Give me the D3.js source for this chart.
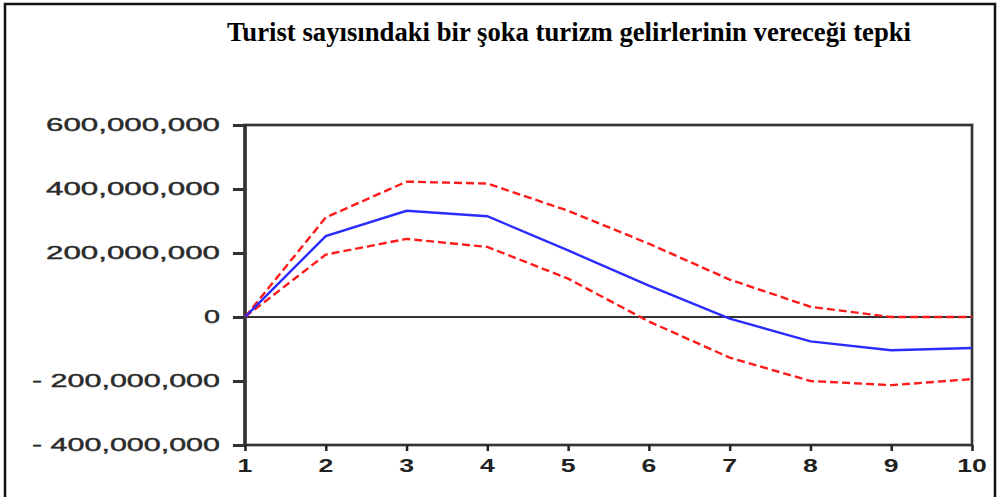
<!DOCTYPE html>
<html>
<head>
<meta charset="utf-8">
<script src="https://cdn.jsdelivr.net/npm/d3@7"></script>
<style>
  html, body { margin: 0; padding: 0; background: #fff; }
  svg { display: block; }
</style>
</head>
<body>
<script>
// ---- Data ----
const periods = [1, 2, 3, 4, 5, 6, 7, 8, 9, 10];
const response = [0, 253e6, 332e6, 315e6, 208e6, 98e6, -5e6, -76e6, -104e6, -97e6];
const upperBand = [0, 311e6, 423e6, 417e6, 332e6, 229e6, 117e6, 32e6, 0, 0];
const lowerBand = [0, 195e6, 244e6, 219e6, 120e6, -14e6, -127e6, -200e6, -213e6, -194e6];
const yTicks = [600e6, 400e6, 200e6, 0, -200e6, -400e6];
const xTicks = [1, 2, 3, 4, 5, 6, 7, 8, 9, 10];
const title = "Turist sayısındaki bir şoka turizm gelirlerinin vereceği tepki";

const W = 997, H = 497;
const svg = d3.select("body").append("svg").attr("width", W).attr("height", H);

// outer frame
svg.append("path")
  .attr("d", `M5,${H} L5,4 L995,4 L995,${H}`)
  .attr("fill", "none").attr("stroke", "#111").attr("stroke-width", 2.5);

// title
svg.append("text")
  .attr("x", 227).attr("y", 41)
  .attr("font-family", "'Liberation Serif', 'Times New Roman', serif")
  .attr("font-weight", "bold")
  .attr("font-size", 27)
  .attr("textLength", 684)
  .attr("lengthAdjust", "spacingAndGlyphs")
  .attr("fill", "#000")
  .text(title);

const pL = 245, pR = 972, pT = 125, pB = 445;
const x = d3.scaleLinear().domain([1, 10]).range([pL, pR]);
const y = d3.scaleLinear().domain([-400e6, 600e6]).range([pB, pT]);

// plot frame (top & right) with light shadow
svg.append("rect")
  .attr("x", pL).attr("y", pT)
  .attr("width", pR - pL).attr("height", pB - pT)
  .attr("fill", "none").attr("stroke", "#c8c8c8").attr("stroke-width", 4);
svg.append("rect")
  .attr("x", pL).attr("y", pT)
  .attr("width", pR - pL).attr("height", pB - pT)
  .attr("fill", "none").attr("stroke", "#333").attr("stroke-width", 2.2);
svg.append("line")
  .attr("x1", pL).attr("x2", pL).attr("y1", pT).attr("y2", pB)
  .attr("stroke", "#333").attr("stroke-width", 3.5);

// y axis
const yAxis = d3.axisLeft(y).tickValues(yTicks).tickSize(12).tickFormat("");
const gy = svg.append("g").attr("transform", `translate(${pL},0)`).call(yAxis);
gy.select(".domain").remove();
gy.selectAll(".tick line").attr("stroke", "#333").attr("stroke-width", 3);

const fmt = d3.format(",");
svg.append("g").selectAll("text").data(yTicks).join("text")
  .attr("x", 220)
  .attr("y", d => y(d) + 6)
  .attr("text-anchor", "end")
  .attr("font-family", "'Liberation Sans', Arial, sans-serif")
  .attr("font-size", 18)
  .attr("fill", "#2a2a2a")
  .attr("stroke", "#2a2a2a").attr("stroke-width", 0.4)
  .attr("textLength", d => d < 0 ? 188 : (d === 0 ? 16 : 174))
  .attr("lengthAdjust", "spacingAndGlyphs")
  .text(d => d < 0 ? "- " + fmt(-d) : fmt(d));

// x axis
const xAxis = d3.axisBottom(x).tickValues(xTicks).tickSize(6).tickFormat("");
const gx = svg.append("g").attr("transform", `translate(0,${pB})`).call(xAxis);
gx.select(".domain").remove();
gx.selectAll(".tick line").attr("stroke", "#222").attr("stroke-width", 2.5);

svg.append("g").selectAll("text").data(xTicks).join("text")
  .attr("transform", d => `translate(${x(d)},472) scale(1.4,1)`)
  .attr("text-anchor", "middle")
  .attr("font-family", "'Liberation Sans', Arial, sans-serif")
  .attr("font-weight", "bold")
  .attr("font-size", 19)
  .attr("fill", "#222")
  .text(d => d);

// zero line
svg.append("line")
  .attr("x1", pL).attr("x2", pR)
  .attr("y1", y(0)).attr("y2", y(0))
  .attr("stroke", "#333").attr("stroke-width", 2);

// series
const line = d3.line().x((d, i) => x(periods[i])).y(d => y(d));

svg.append("path").datum(upperBand)
  .attr("d", line).attr("fill", "none")
  .attr("stroke", "#ff1a1a").attr("stroke-width", 2.4)
  .attr("stroke-dasharray", "8,4");
svg.append("path").datum(lowerBand)
  .attr("d", line).attr("fill", "none")
  .attr("stroke", "#ff1a1a").attr("stroke-width", 2.4)
  .attr("stroke-dasharray", "8,4");
svg.append("path").datum(response)
  .attr("d", line).attr("fill", "none")
  .attr("stroke", "#2b2bff").attr("stroke-width", 2.4);
</script>
</body>
</html>
